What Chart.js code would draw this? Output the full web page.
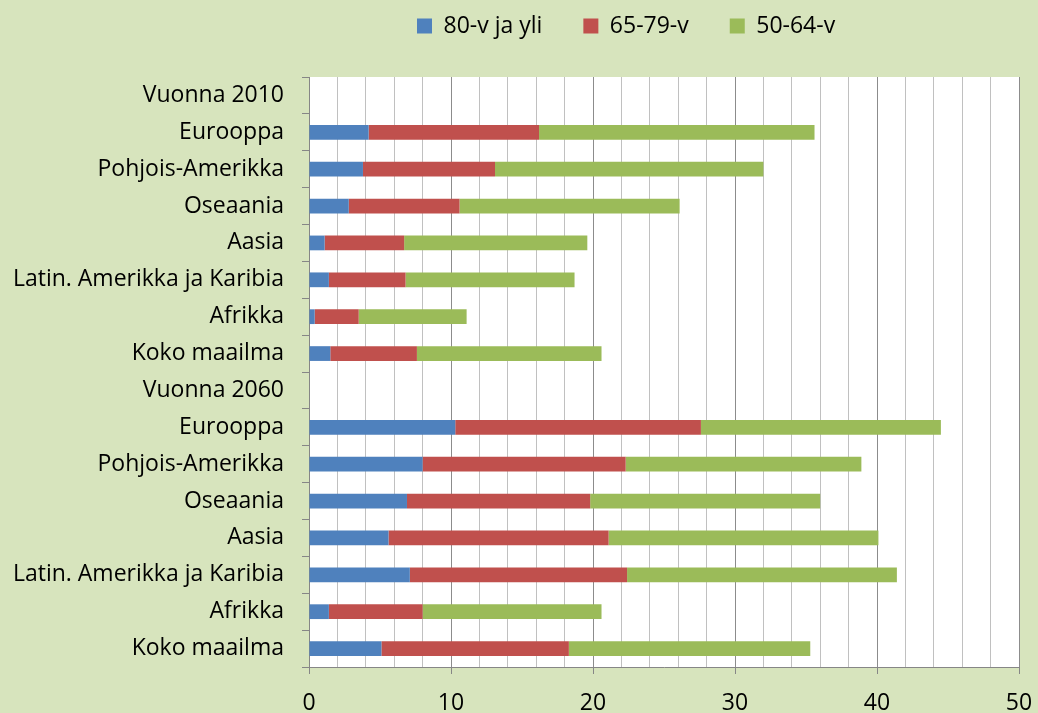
<!DOCTYPE html>
<html>
<head>
<meta charset="utf-8">
<script src="https://cdn.jsdelivr.net/npm/chart.js@4/dist/chart.umd.min.js"></script>
<style>
  html, body { margin: 0; padding: 0; background: #d7e4bd; }
  #wrap { position: relative; width: 1038px; height: 713px; }
</style>
</head>
<body>
<div id="wrap"><canvas id="c"></canvas></div>
<script>
const categories = [
  'Vuonna 2010', 'Eurooppa', 'Pohjois-Amerikka', 'Oseaania', 'Aasia',
  'Latin. Amerikka ja Karibia', 'Afrikka', 'Koko maailma',
  'Vuonna 2060', 'Eurooppa', 'Pohjois-Amerikka', 'Oseaania', 'Aasia',
  'Latin. Amerikka ja Karibia', 'Afrikka', 'Koko maailma'
];
const seriesNames = ['80-v ja yli', '65-79-v', '50-64-v'];
const age80plus = [null, 4.2, 3.8, 2.8, 1.1, 1.4, 0.4, 1.5, null, 10.3, 8.0, 6.9, 5.6, 7.1, 1.4, 5.1];
const age65to79 = [null, 12.0, 9.3, 7.8, 5.6, 5.4, 3.1, 6.1, null, 17.3, 14.3, 12.9, 15.5, 15.3, 6.6, 13.2];
const age50to64 = [null, 19.4, 18.9, 15.5, 12.9, 11.9, 7.6, 13.0, null, 16.9, 16.6, 16.2, 19.0, 19.0, 12.6, 17.0];
const xTicks = [0, 10, 20, 30, 40, 50];

const FONT = '"Open Sans", "DejaVu Sans", sans-serif';

const layoutPlugin = {
  id: 'layoutTweak',
  beforeLayout(chart) {
    const lg = chart.legend;
    if (lg && !lg._patched) {
      const orig = lg.fit.bind(lg);
      lg.fit = function () { orig(); this.height = 77; };
      lg._patched = true;
    }
  },
  afterLayout(chart) {
    const lg = chart.legend;
    if (!lg) return;
    const pad = lg.options.labels.padding;
    const w = lg.right - lg.left;
    lg.left = 417 - pad;
    lg.right = lg.left + w;
    lg.top = 26 - 11.5 - pad;
  },
  beforeDraw(chart) {
    const { ctx, chartArea: a } = chart;
    ctx.save();
    ctx.fillStyle = '#d7e4bd';
    ctx.fillRect(0, 0, chart.width, chart.height);
    ctx.fillStyle = '#ffffff';
    ctx.fillRect(a.left, a.top, a.right - a.left, a.bottom - a.top);
    ctx.restore();
  }
};

new Chart(document.getElementById('c'), {
  type: 'bar',
  data: {
    labels: categories,
    datasets: [
      { label: seriesNames[0], data: age80plus, backgroundColor: '#4f81bd' },
      { label: seriesNames[1], data: age65to79, backgroundColor: '#c0504d' },
      { label: seriesNames[2], data: age50to64, backgroundColor: '#9bbb59' }
    ]
  },
  options: {
    indexAxis: 'y',
    responsive: true,
    maintainAspectRatio: false,
    animation: false,
    events: [],
    layout: { padding: { left: 0, right: 19, top: 0, bottom: 0 } },
    datasets: { bar: { barPercentage: 0.4, categoryPercentage: 1.0 } },
    plugins: {
      tooltip: { enabled: false },
      legend: {
        display: true,
        position: 'top',
        align: 'start',
        labels: {
          boxWidth: 15,
          boxHeight: 15,
          padding: 41,
          color: '#000000',
          font: { family: FONT, size: 23 }
        }
      }
    },
    scales: {
      x: {
        stacked: true,
        min: 0,
        max: 50,
        afterFit(scale) {
          scale.height = 46;
          scale.paddingLeft = 0;
          scale.paddingRight = 0;
        },
        afterBuildTicks(scale) {
          const t = [];
          for (let v = 0; v <= 50; v += 2) t.push({ value: v });
          scale.ticks = t;
        },
        ticks: {
          autoSkip: false,
          maxRotation: 0,
          color: '#000000',
          padding: 16,
          font: { family: FONT, size: 23 },
          callback: (v) => (xTicks.includes(v) ? String(v) : '')
        },
        grid: {
          drawOnChartArea: true,
          drawTicks: true,
          tickLength: 7,
          lineWidth: 1,
          color: (ctx) => (ctx.tick && ctx.tick.value % 10 === 0 ? '#8c8c8c' : '#c0c0c0'),
          tickColor: (ctx) => (ctx.tick && ctx.tick.value % 10 === 0 ? '#868686' : 'rgba(0,0,0,0)')
        },
        border: { display: true, color: '#868686', width: 1 }
      },
      y: {
        stacked: true,
        afterFit(scale) { scale.width = 309; },
        ticks: {
          autoSkip: false,
          color: '#000000',
          padding: 18,
          font: { family: FONT, size: 23 }
        },
        grid: {
          offset: true,
          drawOnChartArea: false,
          drawTicks: true,
          tickLength: 7,
          color: '#868686',
          tickColor: '#868686'
        },
        border: { display: true, color: '#868686', width: 1 }
      }
    }
  },
  plugins: [layoutPlugin]
});
</script>
</body>
</html>
